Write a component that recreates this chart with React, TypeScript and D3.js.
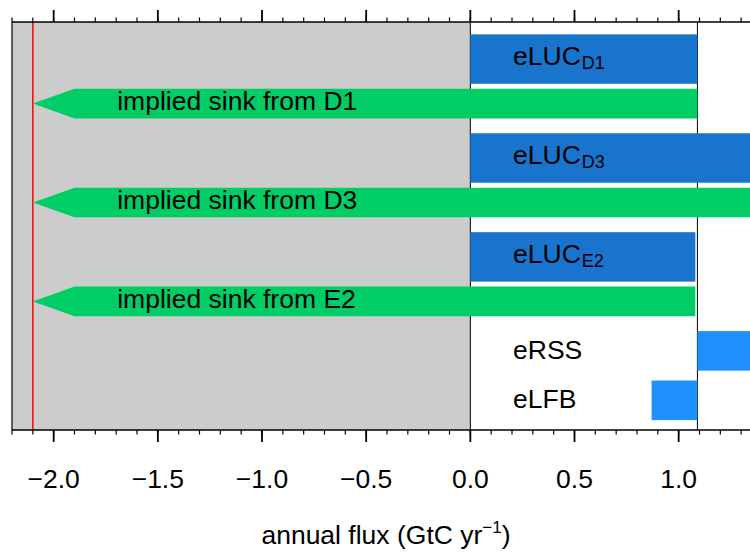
import * as d3 from "d3";

// values (GtC / yr)
const scenarios = ["D1", "D3", "E2"];
const eLucValues = [1.09, 1.39, 1.08];
const totalSink = -2.1;
const componentNames = ["eRSS", "eLFB"];
const componentValues = [0.52, -0.22]; // stacked on eLUC_D1
const majorTicks = [-2.0, -1.5, -1.0, -0.5, 0.0, 0.5, 1.0];
const minorTicks = d3.range(-22, 15).map((i) => i / 10);

const width = 750;
const height = 552;
const margin = { top: 22, left: 12, bottom: 122 };
const plotBottom = height - margin.bottom; // 430

const x = d3.scaleLinear().domain([-2.2, 1.4]).range([margin.left, 762]);
const y = d3.scaleLinear().domain([0, 8.25]).range([plotBottom, margin.top]);

const blueDark = "#1874CD";
const blueLight = "#1E90FF";
const green = "#00CD66";
const font = "'Liberation Sans', Arial, Helvetica, sans-serif";
const fs = 26.5;

const App = () => {
  const unit = y(0) - y(1);
  const headStart = totalSink + 0.2;
  const base = eLucValues[0];

  const arrowPath = (v: number, cy: number, h: number) => {
    const top = cy - h / 2;
    const bot = cy + h / 2;
    return `M${x(v)},${top}L${x(headStart)},${top}L${x(totalSink)},${cy}L${x(headStart)},${bot}L${x(v)},${bot}Z`;
  };

  return (
    <svg
      width={width}
      height={height}
      style={{ position: "absolute", left: 0, top: 0, fontFamily: font }}
    >
      <defs>
        <clipPath id="plot">
          <rect x={margin.left} y={margin.top} width={width - margin.left} height={plotBottom - margin.top} />
        </clipPath>
      </defs>
      <g clipPath="url(#plot)">
        <rect
          x={x(-2.2)}
          y={margin.top}
          width={x(0) - x(-2.2)}
          height={plotBottom - margin.top}
          fill="#CCCCCC"
        />
        <line x1={x(totalSink)} x2={x(totalSink)} y1={margin.top} y2={plotBottom} stroke="#FF0000" strokeWidth={1.5} />
        <line x1={x(0)} x2={x(0)} y1={margin.top} y2={plotBottom} stroke="#000" strokeWidth={1} />
        <line x1={x(base)} x2={x(base)} y1={margin.top} y2={plotBottom} stroke="#000" strokeWidth={1} />

        {scenarios.map((s, i) => {
          const cBar = y(7.5 - 2 * i);
          const cArrow = y(6.6 - 2 * i);
          const v = eLucValues[i];
          return (
            <g key={s}>
              <rect x={x(0)} y={cBar - unit / 2} width={x(v) - x(0)} height={unit} fill={blueDark} />
              <path d={arrowPath(v, cArrow, unit * 0.6)} fill={green} />
              <text x={x(0.205)} y={cBar + 6} fontSize={fs} fill="#000">
                eLUC
                <tspan fontSize={18} dx={1} dy={4}>{s}</tspan>
              </text>
              <text x={x(-1.695)} y={cArrow + 6.5} fontSize={fs} fill="#000">
                implied sink from {s}
              </text>
            </g>
          );
        })}

        {componentNames.map((n, i) => {
          const c = y(1.6 - i);
          const v = componentValues[i];
          const x0 = x(Math.min(base, base + v));
          const x1 = x(Math.max(base, base + v));
          return (
            <g key={n}>
              <rect x={x0} y={c - unit * 0.4} width={x1 - x0} height={unit * 0.8} fill={blueLight} />
              <text x={x(0.205)} y={c + 8} fontSize={fs} fill="#000">
                {n}
              </text>
            </g>
          );
        })}
      </g>

      {/* frame */}
      <line x1={margin.left} x2={width} y1={margin.top} y2={margin.top} stroke="#000" strokeWidth={1.5} />
      <line x1={margin.left} x2={width} y1={plotBottom} y2={plotBottom} stroke="#000" strokeWidth={1.5} />
      <line x1={margin.left} x2={margin.left} y1={margin.top} y2={plotBottom} stroke="#000" strokeWidth={1.2} />

      {minorTicks.map((t) => (
        <g key={"m" + t}>
          <line x1={x(t)} x2={x(t)} y1={margin.top} y2={margin.top - 4.5} stroke="#000" strokeWidth={1.2} />
          <line x1={x(t)} x2={x(t)} y1={plotBottom} y2={plotBottom + 4.5} stroke="#000" strokeWidth={1.2} />
        </g>
      ))}
      {majorTicks.map((t) => (
        <g key={"M" + t}>
          <line x1={x(t)} x2={x(t)} y1={margin.top} y2={margin.top - 12} stroke="#000" strokeWidth={1.8} />
          <line x1={x(t)} x2={x(t)} y1={plotBottom} y2={plotBottom + 12} stroke="#000" strokeWidth={1.8} />
          <text x={x(t)} y={488} textAnchor="middle" fontSize={fs} fill="#000">
            {d3.format(".1f")(t)}
          </text>
        </g>
      ))}

      <text x={386} y={544} textAnchor="middle" fontSize={fs} fill="#000">
        annual flux (GtC yr
        <tspan fontSize={17} dy={-11}>−1</tspan>
        <tspan dy={11}>)</tspan>
      </text>
    </svg>
  );
};

export default App;
